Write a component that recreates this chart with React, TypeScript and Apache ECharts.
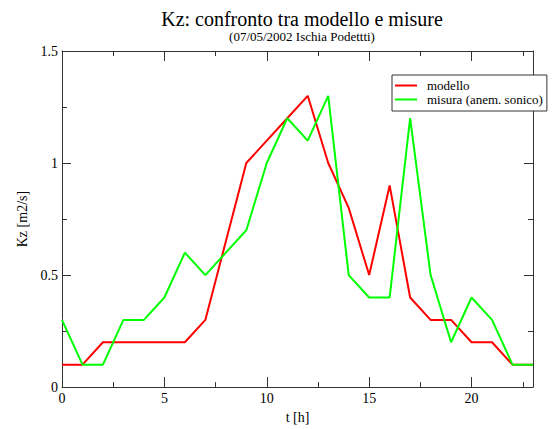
import React, { useEffect, useRef } from "react";
import * as echarts from "echarts";

const hours = [0, 1, 2, 3, 4, 5, 6, 7, 8, 9, 10, 11, 12, 13, 14, 15, 16, 17, 18, 19, 20, 21, 22, 23];
const modello = [0.1, 0.1, 0.2, 0.2, 0.2, 0.2, 0.2, 0.3, 0.65, 1.0, 1.1, 1.2, 1.3, 1.0, 0.8, 0.5, 0.9, 0.4, 0.3, 0.3, 0.2, 0.2, 0.1, 0.1];
const misura = [0.3, 0.1, 0.1, 0.3, 0.3, 0.4, 0.6, 0.5, 0.6, 0.7, 1.0, 1.2, 1.1, 1.3, 0.5, 0.4, 0.4, 1.2, 0.5, 0.2, 0.4, 0.3, 0.1, 0.1];
const seriesNames = ["modello", "misura (anem. sonico)"];
const seriesColors = ["#ff0000", "#00ff00"];
const titleText = "Kz: confronto tra modello e misure";
const subtitleText = "(07/05/2002 Ischia Podettti)";
const xName = "t [h]";
const yName = "Kz [m2/s]";

const FONT = "Liberation Serif";
const AXC = "#333333";

export default function App() {
  const ref = useRef<HTMLDivElement>(null);
  useEffect(() => {
    if (!ref.current) return;
    const chart = echarts.init(ref.current, null, { renderer: "svg" });
    const mk = (vals: number[]) => hours.map((h, i) => [h, vals[i]]);
    const xBase = (pos: "bottom" | "top", interval: number, len: number, labels: boolean, line: boolean) => ({
      type: "value" as const,
      position: pos,
      min: 0,
      max: 23,
      interval,
      axisLine: { show: line, onZero: false, lineStyle: { color: AXC, width: 1 } },
      axisTick: { show: true, inside: true, length: len, lineStyle: { color: AXC, width: 1 } },
      axisLabel: {
        show: labels,
        showMaxLabel: false,
        color: "#000",
        fontFamily: FONT,
        fontSize: 14,
        margin: 4,
      },
      splitLine: { show: false },
    });
    const yBase = (pos: "left" | "right", labels: boolean) => ({
      type: "value" as const,
      position: pos,
      min: 0,
      max: 1.5,
      interval: 0.5,
      axisLine: { show: true, onZero: false, lineStyle: { color: AXC, width: 1 } },
      axisTick: { show: true, inside: true, length: 9, lineStyle: { color: AXC, width: 1 } },
      minorTick: { show: true, splitNumber: 2, length: 5, lineStyle: { color: AXC, width: 1 } },
      axisLabel: {
        show: labels,
        color: "#000",
        fontFamily: FONT,
        fontSize: 14,
        margin: 4,
        formatter: (v: number) => String(v),
      },
      splitLine: { show: false },
      minorSplitLine: { show: false },
    });
    chart.setOption({
      animation: false,
      backgroundColor: "#ffffff",
      title: [
        {
          text: titleText,
          left: 297,
          top: 4,
          textAlign: "center",
          textStyle: { fontFamily: FONT, fontSize: 20, fontWeight: "normal", color: "#000" },
        },
        {
          text: subtitleText,
          left: 297,
          top: 25,
          textAlign: "center",
          textStyle: { fontFamily: FONT, fontSize: 13, fontWeight: "normal", color: "#000" },
        },
      ],
      grid: { left: 62, right: 22, top: 51, bottom: 36, containLabel: false },
      legend: {
        orient: "vertical",
        left: 392,
        top: 75,
        padding: [4, 4, 5, 3],
        itemGap: 1,
        itemWidth: 22,
        itemHeight: 2,
        borderColor: "#333",
        borderWidth: 1,
        backgroundColor: "#fff",
        textStyle: { fontFamily: FONT, fontSize: 13, color: "#000", padding: [0, 0, 0, 5] },
        data: seriesNames.map((n) => ({ name: n, icon: "rect" })),
      },
      xAxis: [
        {
          ...xBase("bottom", 5, 10, true, true),
          name: xName,
          nameLocation: "middle",
          nameGap: 18,
          nameTextStyle: { fontFamily: FONT, fontSize: 14, color: "#000" },
        },
        xBase("bottom", 2.5, 5, false, false),
        xBase("top", 5, 10, false, true),
        xBase("top", 2.5, 5, false, false),
      ],
      yAxis: [
        {
          ...yBase("left", true),
          name: yName,
          nameLocation: "middle",
          nameGap: 24,
          nameRotate: 90,
          nameTextStyle: { fontFamily: FONT, fontSize: 14, color: "#000" },
        },
        yBase("right", false),
      ],
      series: [
        {
          name: seriesNames[0],
          type: "line",
          data: mk(modello),
          showSymbol: false,
          symbol: "none",
          color: seriesColors[0],
          lineStyle: { color: seriesColors[0], width: 2 },
          z: 2,
        },
        {
          name: seriesNames[1],
          type: "line",
          data: mk(misura),
          showSymbol: false,
          symbol: "none",
          color: seriesColors[1],
          lineStyle: { color: seriesColors[1], width: 2 },
          z: 3,
        },
      ],
    });
    return () => chart.dispose();
  }, []);
  return <div ref={ref} style={{ width: 555, height: 429, position: "absolute", left: 0, top: 0 }} />;
}
